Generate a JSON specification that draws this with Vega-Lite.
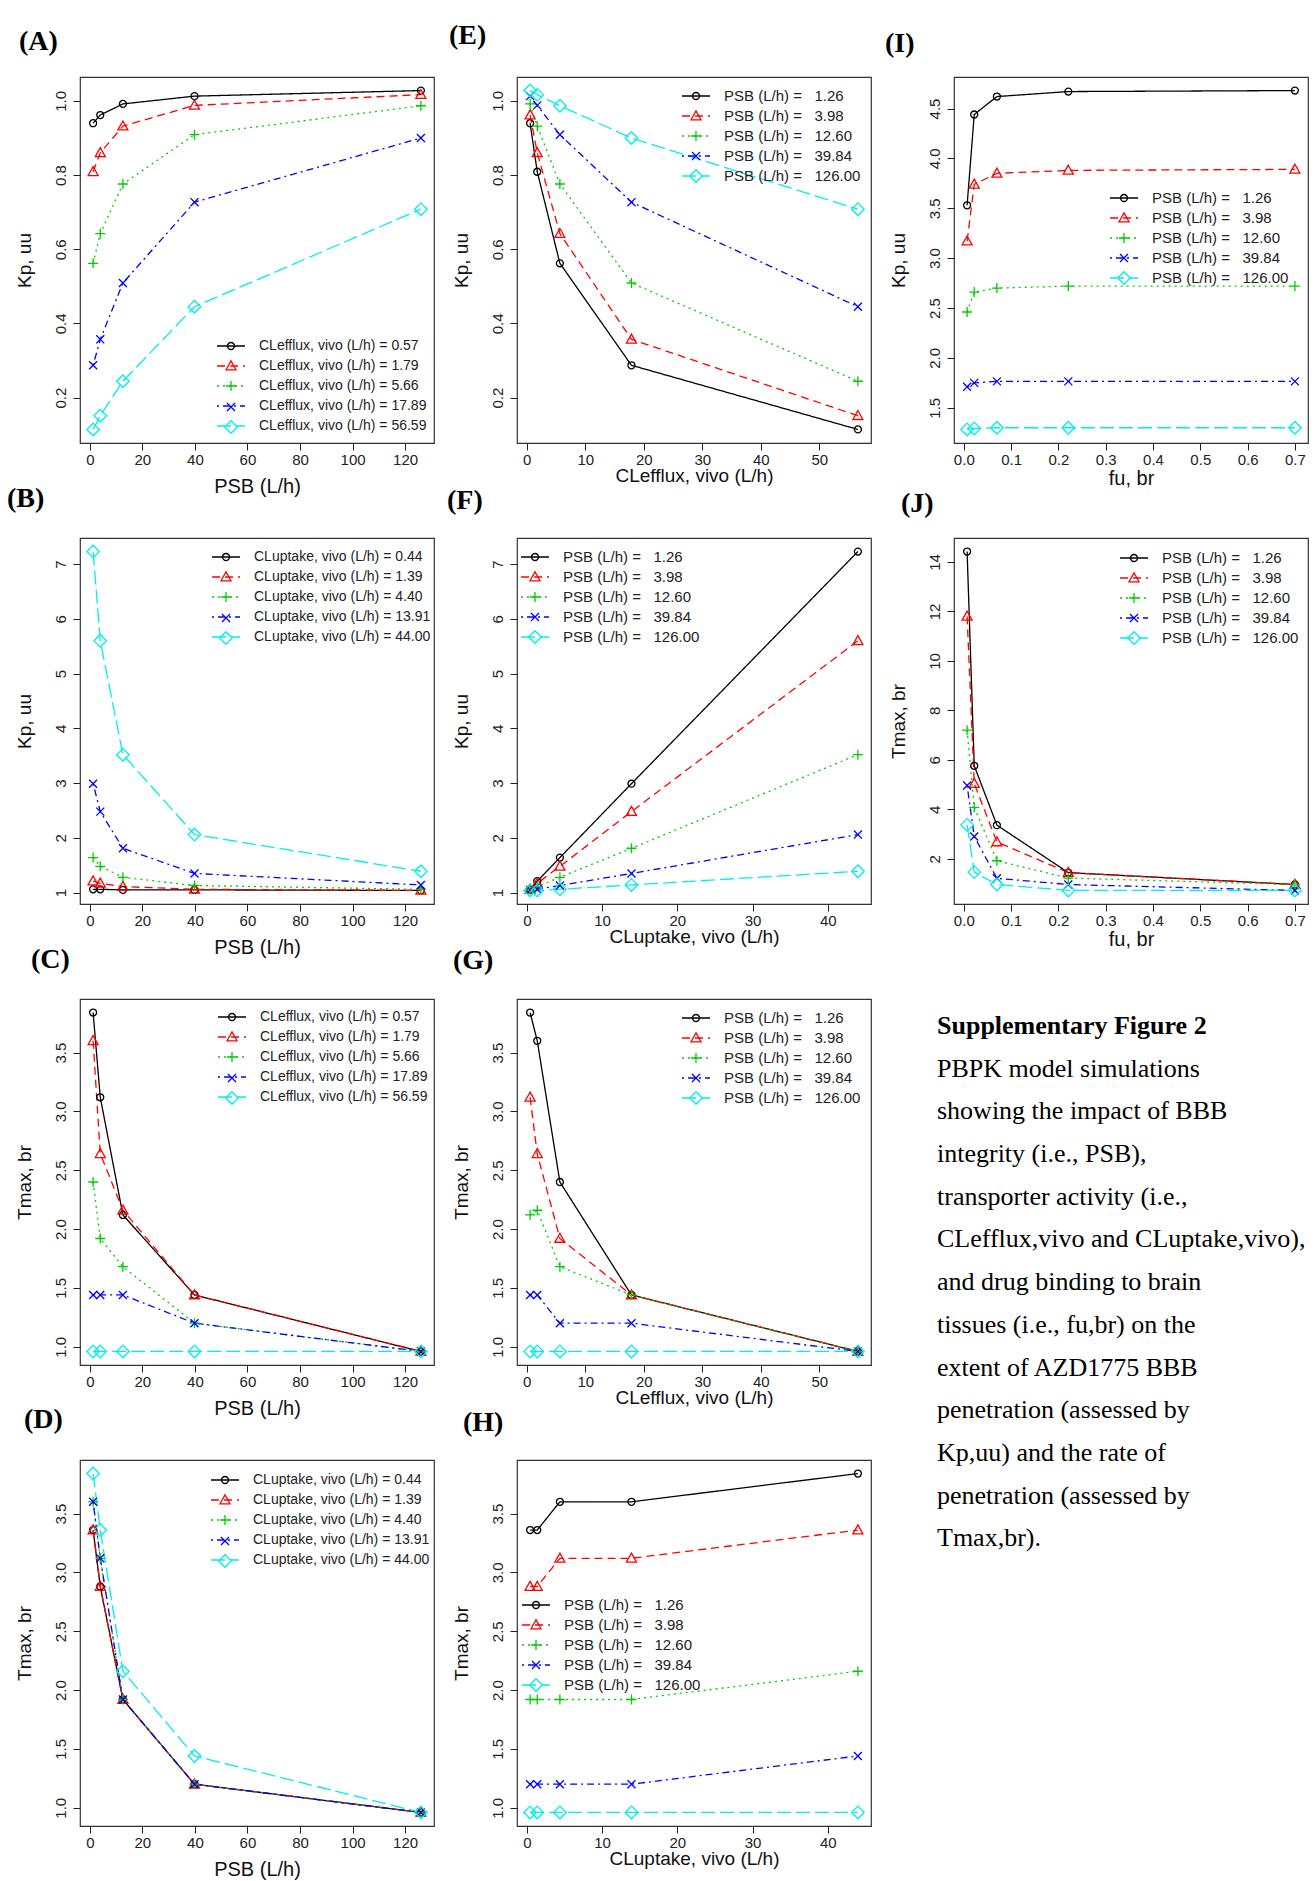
{
  "$schema": "https://vega.github.io/schema/vega-lite/v6.json",
  "background": "white",
  "padding": {"left": 6, "top": 21, "right": 0, "bottom": 0},
  "autosize": {"type": "pad"},
  "datasets": {
    "eff": [
      {"cle": 0.57, "psb": 1.26, "kp": 0.94, "tmax": 3.84},
      {"cle": 0.57, "psb": 3.98, "kp": 0.962, "tmax": 3.12},
      {"cle": 0.57, "psb": 12.6, "kp": 0.992, "tmax": 2.12},
      {"cle": 0.57, "psb": 39.84, "kp": 1.013, "tmax": 1.44},
      {"cle": 0.57, "psb": 126, "kp": 1.028, "tmax": 0.96},
      {"cle": 1.79, "psb": 1.26, "kp": 0.809, "tmax": 3.6},
      {"cle": 1.79, "psb": 3.98, "kp": 0.86, "tmax": 2.64},
      {"cle": 1.79, "psb": 12.6, "kp": 0.932, "tmax": 2.16},
      {"cle": 1.79, "psb": 39.84, "kp": 0.988, "tmax": 1.44},
      {"cle": 1.79, "psb": 126, "kp": 1.017, "tmax": 0.96},
      {"cle": 5.66, "psb": 1.26, "kp": 0.562, "tmax": 2.4},
      {"cle": 5.66, "psb": 3.98, "kp": 0.642, "tmax": 1.92},
      {"cle": 5.66, "psb": 12.6, "kp": 0.776, "tmax": 1.68},
      {"cle": 5.66, "psb": 39.84, "kp": 0.909, "tmax": 1.2},
      {"cle": 5.66, "psb": 126, "kp": 0.987, "tmax": 0.96},
      {"cle": 17.89, "psb": 1.26, "kp": 0.287, "tmax": 1.44},
      {"cle": 17.89, "psb": 3.98, "kp": 0.357, "tmax": 1.44},
      {"cle": 17.89, "psb": 12.6, "kp": 0.509, "tmax": 1.44},
      {"cle": 17.89, "psb": 39.84, "kp": 0.727, "tmax": 1.2},
      {"cle": 17.89, "psb": 126, "kp": 0.9, "tmax": 0.96},
      {"cle": 56.59, "psb": 1.26, "kp": 0.114, "tmax": 0.96},
      {"cle": 56.59, "psb": 3.98, "kp": 0.151, "tmax": 0.96},
      {"cle": 56.59, "psb": 12.6, "kp": 0.244, "tmax": 0.96},
      {"cle": 56.59, "psb": 39.84, "kp": 0.445, "tmax": 0.96},
      {"cle": 56.59, "psb": 126, "kp": 0.708, "tmax": 0.96}
    ],
    "upt": [
      {"clu": 0.44, "psb": 1.26, "kp": 1.06, "tmax": 3.36},
      {"clu": 0.44, "psb": 3.98, "kp": 1.06, "tmax": 2.88},
      {"clu": 0.44, "psb": 12.6, "kp": 1.05, "tmax": 1.92},
      {"clu": 0.44, "psb": 39.84, "kp": 1.05, "tmax": 1.2},
      {"clu": 0.44, "psb": 126, "kp": 1.04, "tmax": 0.96},
      {"clu": 1.39, "psb": 1.26, "kp": 1.21, "tmax": 3.36},
      {"clu": 1.39, "psb": 3.98, "kp": 1.17, "tmax": 2.88},
      {"clu": 1.39, "psb": 12.6, "kp": 1.11, "tmax": 1.92},
      {"clu": 1.39, "psb": 39.84, "kp": 1.06, "tmax": 1.2},
      {"clu": 1.39, "psb": 126, "kp": 1.04, "tmax": 0.96},
      {"clu": 4.4, "psb": 1.26, "kp": 1.64, "tmax": 3.6},
      {"clu": 4.4, "psb": 3.98, "kp": 1.48, "tmax": 3.12},
      {"clu": 4.4, "psb": 12.6, "kp": 1.28, "tmax": 1.92},
      {"clu": 4.4, "psb": 39.84, "kp": 1.13, "tmax": 1.2},
      {"clu": 4.4, "psb": 126, "kp": 1.06, "tmax": 0.96},
      {"clu": 13.91, "psb": 1.26, "kp": 2.99, "tmax": 3.6},
      {"clu": 13.91, "psb": 3.98, "kp": 2.48, "tmax": 3.12},
      {"clu": 13.91, "psb": 12.6, "kp": 1.81, "tmax": 1.92},
      {"clu": 13.91, "psb": 39.84, "kp": 1.35, "tmax": 1.2},
      {"clu": 13.91, "psb": 126, "kp": 1.14, "tmax": 0.96},
      {"clu": 44, "psb": 1.26, "kp": 7.23, "tmax": 3.84},
      {"clu": 44, "psb": 3.98, "kp": 5.6, "tmax": 3.36},
      {"clu": 44, "psb": 12.6, "kp": 3.52, "tmax": 2.16},
      {"clu": 44, "psb": 39.84, "kp": 2.06, "tmax": 1.44},
      {"clu": 44, "psb": 126, "kp": 1.39, "tmax": 0.96}
    ],
    "fub": [
      {"psb": 1.26, "fu": 0.007, "kp": 3.53, "tmax": 14.42},
      {"psb": 1.26, "fu": 0.0221, "kp": 4.44, "tmax": 5.76},
      {"psb": 1.26, "fu": 0.07, "kp": 4.62, "tmax": 3.36},
      {"psb": 1.26, "fu": 0.221, "kp": 4.67, "tmax": 1.44},
      {"psb": 1.26, "fu": 0.7, "kp": 4.68, "tmax": 0.96},
      {"psb": 3.98, "fu": 0.007, "kp": 3.17, "tmax": 11.8},
      {"psb": 3.98, "fu": 0.0221, "kp": 3.74, "tmax": 5.04},
      {"psb": 3.98, "fu": 0.07, "kp": 3.85, "tmax": 2.68},
      {"psb": 3.98, "fu": 0.221, "kp": 3.88, "tmax": 1.44},
      {"psb": 3.98, "fu": 0.7, "kp": 3.89, "tmax": 0.96},
      {"psb": 12.6, "fu": 0.007, "kp": 2.46, "tmax": 7.2},
      {"psb": 12.6, "fu": 0.0221, "kp": 2.66, "tmax": 4.08},
      {"psb": 12.6, "fu": 0.07, "kp": 2.7, "tmax": 1.92},
      {"psb": 12.6, "fu": 0.221, "kp": 2.72, "tmax": 1.22},
      {"psb": 12.6, "fu": 0.7, "kp": 2.72, "tmax": 0.96},
      {"psb": 39.84, "fu": 0.007, "kp": 1.71, "tmax": 4.96},
      {"psb": 39.84, "fu": 0.0221, "kp": 1.75, "tmax": 2.9},
      {"psb": 39.84, "fu": 0.07, "kp": 1.765, "tmax": 1.21},
      {"psb": 39.84, "fu": 0.221, "kp": 1.765, "tmax": 0.96},
      {"psb": 39.84, "fu": 0.7, "kp": 1.765, "tmax": 0.72},
      {"psb": 126, "fu": 0.007, "kp": 1.283, "tmax": 3.37},
      {"psb": 126, "fu": 0.0221, "kp": 1.293, "tmax": 1.46},
      {"psb": 126, "fu": 0.07, "kp": 1.3, "tmax": 0.96},
      {"psb": 126, "fu": 0.221, "kp": 1.3, "tmax": 0.72},
      {"psb": 126, "fu": 0.7, "kp": 1.3, "tmax": 0.72}
    ],
    "caption": [
      {"line": 1, "text": "Supplementary Figure 2"},
      {"line": 2, "text": "PBPK model simulations"},
      {"line": 3, "text": "showing the impact of BBB"},
      {"line": 4, "text": "integrity (i.e., PSB),"},
      {"line": 5, "text": "transporter activity (i.e.,"},
      {"line": 6, "text": "CLefflux,vivo and CLuptake,vivo),"},
      {"line": 7, "text": "and drug binding to brain"},
      {"line": 8, "text": "tissues (i.e., fu,br) on the"},
      {"line": 9, "text": "extent of AZD1775 BBB"},
      {"line": 10, "text": "penetration (assessed by"},
      {"line": 11, "text": "Kp,uu) and the rate of"},
      {"line": 12, "text": "penetration (assessed by"},
      {"line": 13, "text": "Tmax,br)."}
    ]
  },
  "columns": 3,
  "spacing": {"row": 95, "column": 83},
  "bounds": "flush",
  "concat": [
    {
      "title": {"text": "(A)", "dx": -61, "offset": 20.7},
      "width": 354, "height": 366,
      "data": {"name": "eff"},
      "encoding": {
        "x": {"field": "psb", "type": "quantitative", "scale": {"domain": [-3.73, 130.99], "nice": false, "zero": false}, "axis": {"values": [0, 20, 40, 60, 80, 100, 120], "title": "PSB (L/h)"}},
        "y": {"field": "kp", "type": "quantitative", "scale": {"domain": [0.0774, 1.0646], "nice": false, "zero": false}, "axis": {"values": [0.2, 0.4, 0.6, 0.8, 1.0], "format": ".1f", "title": "Kp, uu"}}
      },
      "layer": [
        {"mark": {"type": "line"},
         "encoding": {
           "color": {"field": "cle", "type": "ordinal", "scale": {"domain": [0.57, 1.79, 5.66, 17.89, 56.59], "range": ["#000000", "#FF0000", "#00CD00", "#0000FF", "#00EEEE"]}, "legend": {"title": null, "legendX": 139, "legendY": 257, "labelFontSize": 14, "rowPadding": 1, "symbolType": "M-1.233,0H1.233", "labelExpr": "'CLefflux, vivo (L/h) = ' + format(datum.value, '.2f')"}},
           "strokeDash": {"field": "cle", "type": "ordinal", "scale": {"domain": [0.57, 1.79, 5.66, 17.89, 56.59], "range": [[1, 0], [8, 5], [2, 4], [2, 4, 7, 4], [14, 5]]}, "legend": {"title": null, "legendX": 139, "legendY": 257, "labelFontSize": 14, "rowPadding": 1, "symbolType": "M-1.233,0H1.233", "labelExpr": "'CLefflux, vivo (L/h) = ' + format(datum.value, '.2f')"}}
         }},
        {"mark": {"type": "point"},
         "encoding": {
           "color": {"field": "cle", "type": "ordinal", "scale": {"domain": [0.57, 1.79, 5.66, 17.89, 56.59], "range": ["#000000", "#FF0000", "#00CD00", "#0000FF", "#00EEEE"]}, "legend": {"title": null, "legendX": 139, "legendY": 257, "labelFontSize": 14, "rowPadding": 1, "labelOpacity": 0, "labelExpr": "'CLefflux, vivo (L/h) = ' + format(datum.value, '.2f')"}},
           "shape": {"field": "cle", "type": "ordinal", "scale": {"domain": [0.57, 1.79, 5.66, 17.89, 56.59], "range": ["M0.308,0A0.308,0.308,0,1,1,-0.308,0A0.308,0.308,0,1,1,0.308,0Z", "M0,-0.456L0.44,0.333L-0.44,0.333Z", "M-0.44,0H0.44M0,-0.44V0.44", "M-0.353,-0.353L0.353,0.353M-0.353,0.353L0.353,-0.353", "M0,-0.555L0.555,0L0,0.555L-0.555,0Z"]}, "legend": {"title": null, "legendX": 139, "legendY": 257, "labelFontSize": 14, "rowPadding": 1, "labelOpacity": 0, "labelExpr": "'CLefflux, vivo (L/h) = ' + format(datum.value, '.2f')"}}
         }}
      ],
      "resolve": {"legend": {"color": "independent", "strokeDash": "independent", "shape": "independent"}}
    },
    {
      "title": {"text": "(E)", "dx": -68, "offset": 26.7},
      "width": 354, "height": 366,
      "data": {"name": "eff"},
      "encoding": {
        "x": {"field": "cle", "type": "quantitative", "scale": {"domain": [-1.67, 58.83], "nice": false, "zero": false}, "axis": {"values": [0, 10, 20, 30, 40, 50], "title": "CLefflux, vivo (L/h)", "titleFontSize": 19, "titlePadding": -1}},
        "y": {"field": "kp", "type": "quantitative", "scale": {"domain": [0.0774, 1.0646], "nice": false, "zero": false}, "axis": {"values": [0.2, 0.4, 0.6, 0.8, 1.0], "format": ".1f", "title": "Kp, uu"}}
      },
      "layer": [
        {"mark": {"type": "line"},
         "encoding": {
           "color": {"field": "psb", "type": "ordinal", "scale": {"domain": [1.26, 3.98, 12.6, 39.84, 126], "range": ["#000000", "#FF0000", "#00CD00", "#0000FF", "#00EEEE"]}, "legend": {"title": null, "legendX": 167, "legendY": 7, "symbolType": "M-1.233,0H1.233", "labelExpr": "'PSB (L/h) =\u00a0\u00a0\u00a0' + format(datum.value, '.2f')"}},
           "strokeDash": {"field": "psb", "type": "ordinal", "scale": {"domain": [1.26, 3.98, 12.6, 39.84, 126], "range": [[1, 0], [8, 5], [2, 4], [2, 4, 7, 4], [14, 5]]}, "legend": {"title": null, "legendX": 167, "legendY": 7, "symbolType": "M-1.233,0H1.233", "labelExpr": "'PSB (L/h) =\u00a0\u00a0\u00a0' + format(datum.value, '.2f')"}}
         }},
        {"mark": {"type": "point"},
         "encoding": {
           "color": {"field": "psb", "type": "ordinal", "scale": {"domain": [1.26, 3.98, 12.6, 39.84, 126], "range": ["#000000", "#FF0000", "#00CD00", "#0000FF", "#00EEEE"]}, "legend": {"title": null, "legendX": 167, "legendY": 7, "labelOpacity": 0, "labelExpr": "'PSB (L/h) =\u00a0\u00a0\u00a0' + format(datum.value, '.2f')"}},
           "shape": {"field": "psb", "type": "ordinal", "scale": {"domain": [1.26, 3.98, 12.6, 39.84, 126], "range": ["M0.308,0A0.308,0.308,0,1,1,-0.308,0A0.308,0.308,0,1,1,0.308,0Z", "M0,-0.456L0.44,0.333L-0.44,0.333Z", "M-0.44,0H0.44M0,-0.44V0.44", "M-0.353,-0.353L0.353,0.353M-0.353,0.353L0.353,-0.353", "M0,-0.555L0.555,0L0,0.555L-0.555,0Z"]}, "legend": {"title": null, "legendX": 167, "legendY": 7, "labelOpacity": 0, "labelExpr": "'PSB (L/h) =\u00a0\u00a0\u00a0' + format(datum.value, '.2f')"}}
         }}
      ],
      "resolve": {"legend": {"color": "independent", "strokeDash": "independent", "shape": "independent"}}
    },
    {
      "title": {"text": "(I)", "dx": -69, "offset": 18.7},
      "width": 354, "height": 366,
      "data": {"name": "fub"},
      "encoding": {
        "x": {"field": "fu", "type": "quantitative", "scale": {"domain": [-0.0207, 0.7277], "nice": false, "zero": false}, "axis": {"values": [0, 0.1, 0.2, 0.3, 0.4, 0.5, 0.6, 0.7], "format": ".1f", "title": "fu, br", "titlePadding": 1}},
        "y": {"field": "kp", "type": "quantitative", "scale": {"domain": [1.147, 4.816], "nice": false, "zero": false}, "axis": {"values": [1.5, 2.0, 2.5, 3.0, 3.5, 4.0, 4.5], "format": ".1f", "title": "Kp, uu"}}
      },
      "layer": [
        {"mark": {"type": "line"},
         "encoding": {
           "color": {"field": "psb", "type": "ordinal", "scale": {"domain": [1.26, 3.98, 12.6, 39.84, 126], "range": ["#000000", "#FF0000", "#00CD00", "#0000FF", "#00EEEE"]}, "legend": {"title": null, "legendX": 158, "legendY": 109, "symbolType": "M-1.233,0H1.233", "labelExpr": "'PSB (L/h) =\u00a0\u00a0\u00a0' + format(datum.value, '.2f')"}},
           "strokeDash": {"field": "psb", "type": "ordinal", "scale": {"domain": [1.26, 3.98, 12.6, 39.84, 126], "range": [[1, 0], [8, 5], [2, 4], [2, 4, 7, 4], [14, 5]]}, "legend": {"title": null, "legendX": 158, "legendY": 109, "symbolType": "M-1.233,0H1.233", "labelExpr": "'PSB (L/h) =\u00a0\u00a0\u00a0' + format(datum.value, '.2f')"}}
         }},
        {"mark": {"type": "point"},
         "encoding": {
           "color": {"field": "psb", "type": "ordinal", "scale": {"domain": [1.26, 3.98, 12.6, 39.84, 126], "range": ["#000000", "#FF0000", "#00CD00", "#0000FF", "#00EEEE"]}, "legend": {"title": null, "legendX": 158, "legendY": 109, "labelOpacity": 0, "labelExpr": "'PSB (L/h) =\u00a0\u00a0\u00a0' + format(datum.value, '.2f')"}},
           "shape": {"field": "psb", "type": "ordinal", "scale": {"domain": [1.26, 3.98, 12.6, 39.84, 126], "range": ["M0.308,0A0.308,0.308,0,1,1,-0.308,0A0.308,0.308,0,1,1,0.308,0Z", "M0,-0.456L0.44,0.333L-0.44,0.333Z", "M-0.44,0H0.44M0,-0.44V0.44", "M-0.353,-0.353L0.353,0.353M-0.353,0.353L0.353,-0.353", "M0,-0.555L0.555,0L0,0.555L-0.555,0Z"]}, "legend": {"title": null, "legendX": 158, "legendY": 109, "labelOpacity": 0, "labelExpr": "'PSB (L/h) =\u00a0\u00a0\u00a0' + format(datum.value, '.2f')"}}
         }}
      ],
      "resolve": {"legend": {"color": "independent", "strokeDash": "independent", "shape": "independent"}}
    },
    {
      "title": {"text": "(B)", "dx": -73, "offset": 24.7},
      "width": 354, "height": 366,
      "data": {"name": "upt"},
      "encoding": {
        "x": {"field": "psb", "type": "quantitative", "scale": {"domain": [-3.73, 130.99], "nice": false, "zero": false}, "axis": {"values": [0, 20, 40, 60, 80, 100, 120], "title": "PSB (L/h)"}},
        "y": {"field": "kp", "type": "quantitative", "scale": {"domain": [0.792, 7.478], "nice": false, "zero": false}, "axis": {"values": [1, 2, 3, 4, 5, 6, 7], "format": "d", "title": "Kp, uu"}}
      },
      "layer": [
        {"mark": {"type": "line"},
         "encoding": {
           "color": {"field": "clu", "type": "ordinal", "scale": {"domain": [0.44, 1.39, 4.4, 13.91, 44], "range": ["#000000", "#FF0000", "#00CD00", "#0000FF", "#00EEEE"]}, "legend": {"title": null, "legendX": 134, "legendY": 7, "labelFontSize": 14, "rowPadding": 1, "symbolType": "M-1.233,0H1.233", "labelExpr": "'CLuptake, vivo (L/h) = ' + format(datum.value, '.2f')"}},
           "strokeDash": {"field": "clu", "type": "ordinal", "scale": {"domain": [0.44, 1.39, 4.4, 13.91, 44], "range": [[1, 0], [8, 5], [2, 4], [2, 4, 7, 4], [14, 5]]}, "legend": {"title": null, "legendX": 134, "legendY": 7, "labelFontSize": 14, "rowPadding": 1, "symbolType": "M-1.233,0H1.233", "labelExpr": "'CLuptake, vivo (L/h) = ' + format(datum.value, '.2f')"}}
         }},
        {"mark": {"type": "point"},
         "encoding": {
           "color": {"field": "clu", "type": "ordinal", "scale": {"domain": [0.44, 1.39, 4.4, 13.91, 44], "range": ["#000000", "#FF0000", "#00CD00", "#0000FF", "#00EEEE"]}, "legend": {"title": null, "legendX": 134, "legendY": 7, "labelFontSize": 14, "rowPadding": 1, "labelOpacity": 0, "labelExpr": "'CLuptake, vivo (L/h) = ' + format(datum.value, '.2f')"}},
           "shape": {"field": "clu", "type": "ordinal", "scale": {"domain": [0.44, 1.39, 4.4, 13.91, 44], "range": ["M0.308,0A0.308,0.308,0,1,1,-0.308,0A0.308,0.308,0,1,1,0.308,0Z", "M0,-0.456L0.44,0.333L-0.44,0.333Z", "M-0.44,0H0.44M0,-0.44V0.44", "M-0.353,-0.353L0.353,0.353M-0.353,0.353L0.353,-0.353", "M0,-0.555L0.555,0L0,0.555L-0.555,0Z"]}, "legend": {"title": null, "legendX": 134, "legendY": 7, "labelFontSize": 14, "rowPadding": 1, "labelOpacity": 0, "labelExpr": "'CLuptake, vivo (L/h) = ' + format(datum.value, '.2f')"}}
         }}
      ],
      "resolve": {"legend": {"color": "independent", "strokeDash": "independent", "shape": "independent"}}
    },
    {
      "title": {"text": "(F)", "dx": -70, "offset": 22.7},
      "width": 354, "height": 366,
      "data": {"name": "upt"},
      "encoding": {
        "x": {"field": "clu", "type": "quantitative", "scale": {"domain": [-1.302, 45.742], "nice": false, "zero": false}, "axis": {"values": [0, 10, 20, 30, 40], "title": "CLuptake, vivo (L/h)", "titleFontSize": 19, "titlePadding": -1}},
        "y": {"field": "kp", "type": "quantitative", "scale": {"domain": [0.792, 7.478], "nice": false, "zero": false}, "axis": {"values": [1, 2, 3, 4, 5, 6, 7], "format": "d", "title": "Kp, uu"}}
      },
      "layer": [
        {"mark": {"type": "line"},
         "encoding": {
           "color": {"field": "psb", "type": "ordinal", "scale": {"domain": [1.26, 3.98, 12.6, 39.84, 126], "range": ["#000000", "#FF0000", "#00CD00", "#0000FF", "#00EEEE"]}, "legend": {"title": null, "legendX": 6, "legendY": 7, "symbolType": "M-1.233,0H1.233", "labelExpr": "'PSB (L/h) =\u00a0\u00a0\u00a0' + format(datum.value, '.2f')"}},
           "strokeDash": {"field": "psb", "type": "ordinal", "scale": {"domain": [1.26, 3.98, 12.6, 39.84, 126], "range": [[1, 0], [8, 5], [2, 4], [2, 4, 7, 4], [14, 5]]}, "legend": {"title": null, "legendX": 6, "legendY": 7, "symbolType": "M-1.233,0H1.233", "labelExpr": "'PSB (L/h) =\u00a0\u00a0\u00a0' + format(datum.value, '.2f')"}}
         }},
        {"mark": {"type": "point"},
         "encoding": {
           "color": {"field": "psb", "type": "ordinal", "scale": {"domain": [1.26, 3.98, 12.6, 39.84, 126], "range": ["#000000", "#FF0000", "#00CD00", "#0000FF", "#00EEEE"]}, "legend": {"title": null, "legendX": 6, "legendY": 7, "labelOpacity": 0, "labelExpr": "'PSB (L/h) =\u00a0\u00a0\u00a0' + format(datum.value, '.2f')"}},
           "shape": {"field": "psb", "type": "ordinal", "scale": {"domain": [1.26, 3.98, 12.6, 39.84, 126], "range": ["M0.308,0A0.308,0.308,0,1,1,-0.308,0A0.308,0.308,0,1,1,0.308,0Z", "M0,-0.456L0.44,0.333L-0.44,0.333Z", "M-0.44,0H0.44M0,-0.44V0.44", "M-0.353,-0.353L0.353,0.353M-0.353,0.353L0.353,-0.353", "M0,-0.555L0.555,0L0,0.555L-0.555,0Z"]}, "legend": {"title": null, "legendX": 6, "legendY": 7, "labelOpacity": 0, "labelExpr": "'PSB (L/h) =\u00a0\u00a0\u00a0' + format(datum.value, '.2f')"}}
         }}
      ],
      "resolve": {"legend": {"color": "independent", "strokeDash": "independent", "shape": "independent"}}
    },
    {
      "title": {"text": "(J)", "dx": -53, "offset": 19.7},
      "width": 354, "height": 366,
      "data": {"name": "fub"},
      "encoding": {
        "x": {"field": "fu", "type": "quantitative", "scale": {"domain": [-0.0207, 0.7277], "nice": false, "zero": false}, "axis": {"values": [0, 0.1, 0.2, 0.3, 0.4, 0.5, 0.6, 0.7], "format": ".1f", "title": "fu, br", "titlePadding": 1}},
        "y": {"field": "tmax", "type": "quantitative", "scale": {"domain": [0.172, 14.968], "nice": false, "zero": false}, "axis": {"values": [2, 4, 6, 8, 10, 12, 14], "format": "d", "title": "Tmax, br"}}
      },
      "layer": [
        {"mark": {"type": "line"},
         "encoding": {
           "color": {"field": "psb", "type": "ordinal", "scale": {"domain": [1.26, 3.98, 12.6, 39.84, 126], "range": ["#000000", "#FF0000", "#00CD00", "#0000FF", "#00EEEE"]}, "legend": {"title": null, "legendX": 168, "legendY": 8, "symbolType": "M-1.233,0H1.233", "labelExpr": "'PSB (L/h) =\u00a0\u00a0\u00a0' + format(datum.value, '.2f')"}},
           "strokeDash": {"field": "psb", "type": "ordinal", "scale": {"domain": [1.26, 3.98, 12.6, 39.84, 126], "range": [[1, 0], [8, 5], [2, 4], [2, 4, 7, 4], [14, 5]]}, "legend": {"title": null, "legendX": 168, "legendY": 8, "symbolType": "M-1.233,0H1.233", "labelExpr": "'PSB (L/h) =\u00a0\u00a0\u00a0' + format(datum.value, '.2f')"}}
         }},
        {"mark": {"type": "point"},
         "encoding": {
           "color": {"field": "psb", "type": "ordinal", "scale": {"domain": [1.26, 3.98, 12.6, 39.84, 126], "range": ["#000000", "#FF0000", "#00CD00", "#0000FF", "#00EEEE"]}, "legend": {"title": null, "legendX": 168, "legendY": 8, "labelOpacity": 0, "labelExpr": "'PSB (L/h) =\u00a0\u00a0\u00a0' + format(datum.value, '.2f')"}},
           "shape": {"field": "psb", "type": "ordinal", "scale": {"domain": [1.26, 3.98, 12.6, 39.84, 126], "range": ["M0.308,0A0.308,0.308,0,1,1,-0.308,0A0.308,0.308,0,1,1,0.308,0Z", "M0,-0.456L0.44,0.333L-0.44,0.333Z", "M-0.44,0H0.44M0,-0.44V0.44", "M-0.353,-0.353L0.353,0.353M-0.353,0.353L0.353,-0.353", "M0,-0.555L0.555,0L0,0.555L-0.555,0Z"]}, "legend": {"title": null, "legendX": 168, "legendY": 8, "labelOpacity": 0, "labelExpr": "'PSB (L/h) =\u00a0\u00a0\u00a0' + format(datum.value, '.2f')"}}
         }}
      ],
      "resolve": {"legend": {"color": "independent", "strokeDash": "independent", "shape": "independent"}}
    },
    {
      "title": {"text": "(C)", "dx": -49, "offset": 24.7},
      "width": 354, "height": 366,
      "data": {"name": "eff"},
      "encoding": {
        "x": {"field": "psb", "type": "quantitative", "scale": {"domain": [-3.73, 130.99], "nice": false, "zero": false}, "axis": {"values": [0, 20, 40, 60, 80, 100, 120], "title": "PSB (L/h)"}},
        "y": {"field": "tmax", "type": "quantitative", "scale": {"domain": [0.8448, 3.9552], "nice": false, "zero": false}, "axis": {"values": [1.0, 1.5, 2.0, 2.5, 3.0, 3.5], "format": ".1f", "title": "Tmax, br"}}
      },
      "layer": [
        {"mark": {"type": "line"},
         "encoding": {
           "color": {"field": "cle", "type": "ordinal", "scale": {"domain": [0.57, 1.79, 5.66, 17.89, 56.59], "range": ["#000000", "#FF0000", "#00CD00", "#0000FF", "#00EEEE"]}, "legend": {"title": null, "legendX": 140, "legendY": 6, "labelFontSize": 14, "rowPadding": 1, "symbolType": "M-1.233,0H1.233", "labelExpr": "'CLefflux, vivo (L/h) = ' + format(datum.value, '.2f')"}},
           "strokeDash": {"field": "cle", "type": "ordinal", "scale": {"domain": [0.57, 1.79, 5.66, 17.89, 56.59], "range": [[1, 0], [8, 5], [2, 4], [2, 4, 7, 4], [14, 5]]}, "legend": {"title": null, "legendX": 140, "legendY": 6, "labelFontSize": 14, "rowPadding": 1, "symbolType": "M-1.233,0H1.233", "labelExpr": "'CLefflux, vivo (L/h) = ' + format(datum.value, '.2f')"}}
         }},
        {"mark": {"type": "point"},
         "encoding": {
           "color": {"field": "cle", "type": "ordinal", "scale": {"domain": [0.57, 1.79, 5.66, 17.89, 56.59], "range": ["#000000", "#FF0000", "#00CD00", "#0000FF", "#00EEEE"]}, "legend": {"title": null, "legendX": 140, "legendY": 6, "labelFontSize": 14, "rowPadding": 1, "labelOpacity": 0, "labelExpr": "'CLefflux, vivo (L/h) = ' + format(datum.value, '.2f')"}},
           "shape": {"field": "cle", "type": "ordinal", "scale": {"domain": [0.57, 1.79, 5.66, 17.89, 56.59], "range": ["M0.308,0A0.308,0.308,0,1,1,-0.308,0A0.308,0.308,0,1,1,0.308,0Z", "M0,-0.456L0.44,0.333L-0.44,0.333Z", "M-0.44,0H0.44M0,-0.44V0.44", "M-0.353,-0.353L0.353,0.353M-0.353,0.353L0.353,-0.353", "M0,-0.555L0.555,0L0,0.555L-0.555,0Z"]}, "legend": {"title": null, "legendX": 140, "legendY": 6, "labelFontSize": 14, "rowPadding": 1, "labelOpacity": 0, "labelExpr": "'CLefflux, vivo (L/h) = ' + format(datum.value, '.2f')"}}
         }}
      ],
      "resolve": {"legend": {"color": "independent", "strokeDash": "independent", "shape": "independent"}}
    },
    {
      "title": {"text": "(G)", "dx": -64, "offset": 23.7},
      "width": 354, "height": 366,
      "data": {"name": "eff"},
      "encoding": {
        "x": {"field": "cle", "type": "quantitative", "scale": {"domain": [-1.67, 58.83], "nice": false, "zero": false}, "axis": {"values": [0, 10, 20, 30, 40, 50], "title": "CLefflux, vivo (L/h)", "titleFontSize": 19, "titlePadding": -1}},
        "y": {"field": "tmax", "type": "quantitative", "scale": {"domain": [0.8448, 3.9552], "nice": false, "zero": false}, "axis": {"values": [1.0, 1.5, 2.0, 2.5, 3.0, 3.5], "format": ".1f", "title": "Tmax, br"}}
      },
      "layer": [
        {"mark": {"type": "line"},
         "encoding": {
           "color": {"field": "psb", "type": "ordinal", "scale": {"domain": [1.26, 3.98, 12.6, 39.84, 126], "range": ["#000000", "#FF0000", "#00CD00", "#0000FF", "#00EEEE"]}, "legend": {"title": null, "legendX": 167, "legendY": 7, "symbolType": "M-1.233,0H1.233", "labelExpr": "'PSB (L/h) =\u00a0\u00a0\u00a0' + format(datum.value, '.2f')"}},
           "strokeDash": {"field": "psb", "type": "ordinal", "scale": {"domain": [1.26, 3.98, 12.6, 39.84, 126], "range": [[1, 0], [8, 5], [2, 4], [2, 4, 7, 4], [14, 5]]}, "legend": {"title": null, "legendX": 167, "legendY": 7, "symbolType": "M-1.233,0H1.233", "labelExpr": "'PSB (L/h) =\u00a0\u00a0\u00a0' + format(datum.value, '.2f')"}}
         }},
        {"mark": {"type": "point"},
         "encoding": {
           "color": {"field": "psb", "type": "ordinal", "scale": {"domain": [1.26, 3.98, 12.6, 39.84, 126], "range": ["#000000", "#FF0000", "#00CD00", "#0000FF", "#00EEEE"]}, "legend": {"title": null, "legendX": 167, "legendY": 7, "labelOpacity": 0, "labelExpr": "'PSB (L/h) =\u00a0\u00a0\u00a0' + format(datum.value, '.2f')"}},
           "shape": {"field": "psb", "type": "ordinal", "scale": {"domain": [1.26, 3.98, 12.6, 39.84, 126], "range": ["M0.308,0A0.308,0.308,0,1,1,-0.308,0A0.308,0.308,0,1,1,0.308,0Z", "M0,-0.456L0.44,0.333L-0.44,0.333Z", "M-0.44,0H0.44M0,-0.44V0.44", "M-0.353,-0.353L0.353,0.353M-0.353,0.353L0.353,-0.353", "M0,-0.555L0.555,0L0,0.555L-0.555,0Z"]}, "legend": {"title": null, "legendX": 167, "legendY": 7, "labelOpacity": 0, "labelExpr": "'PSB (L/h) =\u00a0\u00a0\u00a0' + format(datum.value, '.2f')"}}
         }}
      ],
      "resolve": {"legend": {"color": "independent", "strokeDash": "independent", "shape": "independent"}}
    },
    {
      "width": 354, "height": 366,
      "view": {"stroke": null},
      "data": {"name": "caption"},
      "encoding": {
        "x": {"value": 0},
        "y": {"field": "line", "type": "quantitative", "scale": {"domain": [0.368, 8.939], "reverse": true, "nice": false, "zero": false}, "axis": null},
        "text": {"field": "text"}
      },
      "layer": [
        {"transform": [{"filter": "datum.line === 1"}],
         "mark": {"type": "text", "align": "left", "baseline": "middle", "font": "Liberation Serif", "fontSize": 26, "fontWeight": "bold", "color": "#000000", "dx": -17}},
        {"transform": [{"filter": "datum.line > 1"}],
         "mark": {"type": "text", "align": "left", "baseline": "middle", "font": "Liberation Serif", "fontSize": 26, "fontWeight": "normal", "color": "#000000", "dx": -17}}
      ]
    },
    {
      "title": {"text": "(D)", "dx": -56, "offset": 25.7},
      "width": 354, "height": 366,
      "data": {"name": "upt"},
      "encoding": {
        "x": {"field": "psb", "type": "quantitative", "scale": {"domain": [-3.73, 130.99], "nice": false, "zero": false}, "axis": {"values": [0, 20, 40, 60, 80, 100, 120], "title": "PSB (L/h)"}},
        "y": {"field": "tmax", "type": "quantitative", "scale": {"domain": [0.8448, 3.9552], "nice": false, "zero": false}, "axis": {"values": [1.0, 1.5, 2.0, 2.5, 3.0, 3.5], "format": ".1f", "title": "Tmax, br"}}
      },
      "layer": [
        {"mark": {"type": "line"},
         "encoding": {
           "color": {"field": "clu", "type": "ordinal", "scale": {"domain": [0.44, 1.39, 4.4, 13.91, 44], "range": ["#000000", "#FF0000", "#00CD00", "#0000FF", "#00EEEE"]}, "legend": {"title": null, "legendX": 133, "legendY": 8, "labelFontSize": 14, "rowPadding": 1, "symbolType": "M-1.233,0H1.233", "labelExpr": "'CLuptake, vivo (L/h) = ' + format(datum.value, '.2f')"}},
           "strokeDash": {"field": "clu", "type": "ordinal", "scale": {"domain": [0.44, 1.39, 4.4, 13.91, 44], "range": [[1, 0], [8, 5], [2, 4], [2, 4, 7, 4], [14, 5]]}, "legend": {"title": null, "legendX": 133, "legendY": 8, "labelFontSize": 14, "rowPadding": 1, "symbolType": "M-1.233,0H1.233", "labelExpr": "'CLuptake, vivo (L/h) = ' + format(datum.value, '.2f')"}}
         }},
        {"mark": {"type": "point"},
         "encoding": {
           "color": {"field": "clu", "type": "ordinal", "scale": {"domain": [0.44, 1.39, 4.4, 13.91, 44], "range": ["#000000", "#FF0000", "#00CD00", "#0000FF", "#00EEEE"]}, "legend": {"title": null, "legendX": 133, "legendY": 8, "labelFontSize": 14, "rowPadding": 1, "labelOpacity": 0, "labelExpr": "'CLuptake, vivo (L/h) = ' + format(datum.value, '.2f')"}},
           "shape": {"field": "clu", "type": "ordinal", "scale": {"domain": [0.44, 1.39, 4.4, 13.91, 44], "range": ["M0.308,0A0.308,0.308,0,1,1,-0.308,0A0.308,0.308,0,1,1,0.308,0Z", "M0,-0.456L0.44,0.333L-0.44,0.333Z", "M-0.44,0H0.44M0,-0.44V0.44", "M-0.353,-0.353L0.353,0.353M-0.353,0.353L0.353,-0.353", "M0,-0.555L0.555,0L0,0.555L-0.555,0Z"]}, "legend": {"title": null, "legendX": 133, "legendY": 8, "labelFontSize": 14, "rowPadding": 1, "labelOpacity": 0, "labelExpr": "'CLuptake, vivo (L/h) = ' + format(datum.value, '.2f')"}}
         }}
      ],
      "resolve": {"legend": {"color": "independent", "strokeDash": "independent", "shape": "independent"}}
    },
    {
      "title": {"text": "(H)", "dx": -54, "offset": 22.7},
      "width": 354, "height": 366,
      "data": {"name": "upt"},
      "encoding": {
        "x": {"field": "clu", "type": "quantitative", "scale": {"domain": [-1.302, 45.742], "nice": false, "zero": false}, "axis": {"values": [0, 10, 20, 30, 40], "title": "CLuptake, vivo (L/h)", "titleFontSize": 19, "titlePadding": -1}},
        "y": {"field": "tmax", "type": "quantitative", "scale": {"domain": [0.8448, 3.9552], "nice": false, "zero": false}, "axis": {"values": [1.0, 1.5, 2.0, 2.5, 3.0, 3.5], "format": ".1f", "title": "Tmax, br"}}
      },
      "layer": [
        {"mark": {"type": "line"},
         "encoding": {
           "color": {"field": "psb", "type": "ordinal", "scale": {"domain": [1.26, 3.98, 12.6, 39.84, 126], "range": ["#000000", "#FF0000", "#00CD00", "#0000FF", "#00EEEE"]}, "legend": {"title": null, "legendX": 7, "legendY": 133, "symbolType": "M-1.233,0H1.233", "labelExpr": "'PSB (L/h) =\u00a0\u00a0\u00a0' + format(datum.value, '.2f')"}},
           "strokeDash": {"field": "psb", "type": "ordinal", "scale": {"domain": [1.26, 3.98, 12.6, 39.84, 126], "range": [[1, 0], [8, 5], [2, 4], [2, 4, 7, 4], [14, 5]]}, "legend": {"title": null, "legendX": 7, "legendY": 133, "symbolType": "M-1.233,0H1.233", "labelExpr": "'PSB (L/h) =\u00a0\u00a0\u00a0' + format(datum.value, '.2f')"}}
         }},
        {"mark": {"type": "point"},
         "encoding": {
           "color": {"field": "psb", "type": "ordinal", "scale": {"domain": [1.26, 3.98, 12.6, 39.84, 126], "range": ["#000000", "#FF0000", "#00CD00", "#0000FF", "#00EEEE"]}, "legend": {"title": null, "legendX": 7, "legendY": 133, "labelOpacity": 0, "labelExpr": "'PSB (L/h) =\u00a0\u00a0\u00a0' + format(datum.value, '.2f')"}},
           "shape": {"field": "psb", "type": "ordinal", "scale": {"domain": [1.26, 3.98, 12.6, 39.84, 126], "range": ["M0.308,0A0.308,0.308,0,1,1,-0.308,0A0.308,0.308,0,1,1,0.308,0Z", "M0,-0.456L0.44,0.333L-0.44,0.333Z", "M-0.44,0H0.44M0,-0.44V0.44", "M-0.353,-0.353L0.353,0.353M-0.353,0.353L0.353,-0.353", "M0,-0.555L0.555,0L0,0.555L-0.555,0Z"]}, "legend": {"title": null, "legendX": 7, "legendY": 133, "labelOpacity": 0, "labelExpr": "'PSB (L/h) =\u00a0\u00a0\u00a0' + format(datum.value, '.2f')"}}
         }}
      ],
      "resolve": {"legend": {"color": "independent", "strokeDash": "independent", "shape": "independent"}}
    }
  ],
  "resolve": {
    "scale": {"color": "independent", "strokeDash": "independent", "shape": "independent"},
    "legend": {"color": "independent", "strokeDash": "independent", "shape": "independent"}
  },
  "config": {
    "view": {"stroke": "#333333", "strokeWidth": 1.2},
    "font": "Liberation Sans",
    "axis": {"domain": false, "grid": false, "ticks": true, "tickSize": 7, "tickColor": "#222222", "tickWidth": 1, "labelFont": "Liberation Sans", "labelFontSize": 15, "labelColor": "#222222", "labelFlush": false, "labelOverlap": false, "titleFont": "Liberation Sans", "titleFontSize": 20, "titleFontWeight": "normal", "titleColor": "#111111"},
    "axisX": {"labelPadding": 2, "titlePadding": 9},
    "axisY": {"labelAngle": -90, "labelAlign": "center", "labelBaseline": "bottom", "labelPadding": 5, "titlePadding": 19, "titleFontSize": 19},
    "legend": {"orient": "none", "padding": 0, "symbolSize": 515, "symbolStrokeWidth": 1.3, "labelFont": "Liberation Sans", "labelFontSize": 15, "labelColor": "#222222", "rowPadding": 0, "labelOffset": 16, "symbolOffset": 0, "labelLimit": 400},
    "title": {"font": "Liberation Serif", "fontSize": 28, "fontWeight": "bold", "anchor": "start", "frame": "group", "baseline": "alphabetic", "color": "#000000"},
    "line": {"strokeWidth": 1.3},
    "point": {"filled": false, "opacity": 1, "size": 515, "strokeWidth": 1.3}
  }
}
